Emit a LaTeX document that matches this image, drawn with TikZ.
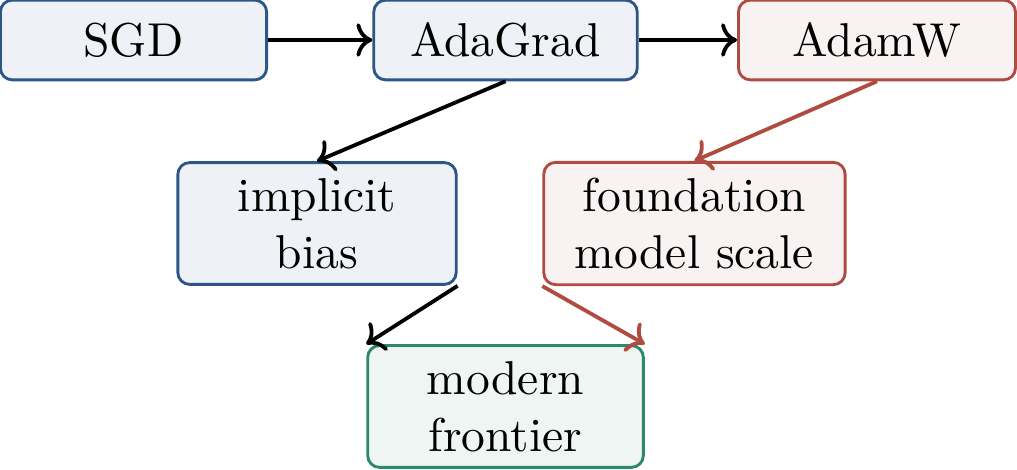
\documentclass[tikz,border=0pt]{standalone}
\usepackage{tikz}
\usetikzlibrary{arrows.meta,positioning}
\definecolor{blueCol}{RGB}{45,85,135}
\definecolor{redCol}{RGB}{175,75,65}
\definecolor{greenCol}{RGB}{45,135,105}
\tikzset{
  stage/.style={draw,rounded corners=2.5pt,semithick,align=center,
                minimum height=0.59cm,inner sep=3.3pt},
  tall/.style={minimum height=0.89cm},
  old/.style={stage,draw=blueCol,fill=blueCol!8},
  new/.style={stage,draw=redCol,fill=redCol!7},
  top/.style={stage,draw=greenCol,fill=greenCol!8},
  flow/.style={->,thick},
}
\begin{document}
\begin{tikzpicture}
      \useasboundingbox (0,0) rectangle (7.526,-3.471);
      \node[old,minimum width=1.97cm] (sgd) at (0.988,-0.296) {SGD};
      \node[old,minimum width=1.95cm] (adagrad) at (3.741,-0.296) {AdaGrad};
      \node[new,minimum width=2.05cm] (adamw) at (6.490,-0.296) {AdamW};
      \node[old,tall,minimum width=2.06cm] (bias) at (2.346,-1.654) {implicit\\bias};
      \node[new,tall,minimum width=2.23cm] (scale) at (5.139,-1.654) {foundation\\model scale};
      \node[top,tall,minimum width=2.04cm] (frontier) at (3.741,-3.008) {modern\\frontier};
      \draw[flow] (sgd) -- (adagrad);
      \draw[flow] (adagrad) -- (adamw);
      \draw[flow] (adagrad.south) -- (bias.north);
      \draw[flow,redCol] (adamw.south) -- (scale.north);
      \draw[flow] (bias.south east) -- (frontier.north west);
      \draw[flow,redCol] (scale.south west) -- (frontier.north east);
    \end{tikzpicture}
\end{document}
